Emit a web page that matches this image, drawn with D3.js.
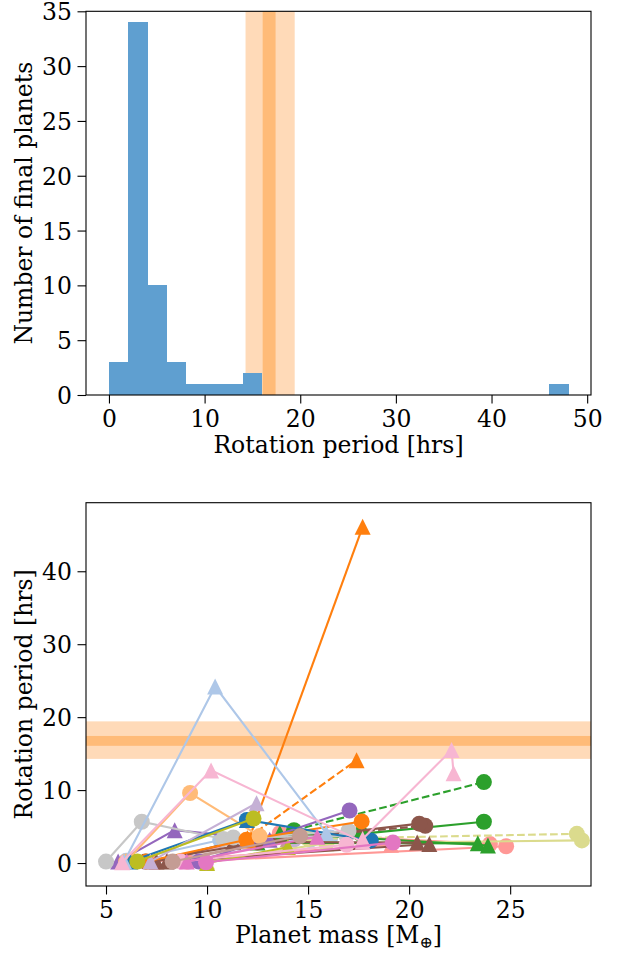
<!DOCTYPE html>
<html><head><meta charset="utf-8">
<script src="https://cdn.jsdelivr.net/npm/d3@7"></script>
<style>
body{margin:0;background:#fff}
text{font-family:"DejaVu Serif",serif;fill:#000}
</style>
</head><body>
<svg id="c" width="620" height="954"></svg>
<script>
// ---------- DATA ----------
const binEdges = [0,2,4,6,8,10,12,14,16,18,20,22,24,26,28,30,32,34,36,38,40,42,44,46,48];
const binCounts = [3,34,10,3,1,1,1,2,0,0,0,0,0,0,0,0,0,0,0,0,0,0,0,1];
const bandOuter = [14.28, 19.42];
const bandInner = [16.07, 17.42];
const histXTicks = [0,10,20,30,40,50];
const histYTicks = [0,5,10,15,20,25,30,35];
const massTicks = [5,10,15,20,25];
const periodTicks = [0,10,20,30,40];

const seriesColor = [
 "#c49c94","#c5b0d5","#aec7e8","#ff9896","#ff9896","#ff9896","#dbdb8d","#dbdb8d","#dbdb8d",
 "#2ca02c","#2ca02c","#2ca02c","#2ca02c",
 "#8c564b","#8c564b","#8c564b","#8c564b",
 "#9467bd","#9467bd","#c7c7c7","#c7c7c7",
 "#ff7f0e","#ff7f0e","#ff7f0e","#ffbb78","#1f77b4","#1f77b4","#c5b0d5",
 "#bcbd22","#bcbd22","#aec7e8","#f7b6d2","#f7b6d2","#f7b6d2","#e377c2","#e377c2","#c49c94"
];
const seriesMarker = [
 "^","o","o","^","o","o","o","^","o",
 "^","^","o","o",
 "^","^","o","o",
 "o","^","o","o",
 "^","o","^","o","o","^","^",
 "o","^","^","^","^","o","^","o","o"
];
const seriesDashed = [
 false,false,false,false,false,false,false,false,true,
 false,false,false,true,
 false,false,true,false,
 false,false,false,false,
 false,false,true,false,false,false,false,
 false,false,false,false,false,false,false,false,false
];
const seriesMass = [
 [8.05,14.0],[9.1,14.3],[6.0,10.65,15.1,16.1],[7.3,19.1],[7.3,13.6,24.0],[9.0,24.8],[15.9,28.55],[10.0,15.9],[15.0,28.3],
 [12.5,23.4],[13.6,23.9],[17.6,23.7],[14.3,23.7],
 [7.5,11.3,20.4],[8.0,21.0],[12.5,20.8],[6.95,12.5,20.5],
 [9.6,17.05],[5.6,8.4,13.1],[5.0,6.77,10.8,17.0],[11.3,16.9],
 [12.05,17.7],[7.0,11.95,17.65],[12.0,17.4],[6.0,9.16,12.6],[11.97,18.1],[6.2,11.97],[7.2,12.45],
 [6.55,12.3],[10.0,14.0],[5.9,10.4,15.9],[5.8,10.2,17.7],[17.7,22.1,22.2],[8.7,16.9],[9.0,15.45],[9.95,19.2],[8.3,14.6]
];
const seriesPeriod = [
 [0.3,3.3],[0.2,3.2],[0.3,3.15,3.15,3.5],[0.2,2.5],[0.2,4.1,2.6],[0.2,2.3],[2.7,3.1],[0.2,2.7],[3.3,4.0],
 [2.8,2.7],[4.1,2.4],[4.0,5.66],[4.5,11.1],
 [0.2,2.9,2.8],[0.2,2.6],[3.1,5.1],[0.2,2.8,5.4],
 [0.2,7.2],[0.2,4.5,3.2],[0.2,5.66,3.3,4.4],[3.5,3.7],
 [3.1,46.1],[0.2,3.2,5.7],[3.4,14.1],[0.2,9.6,3.7],[5.9,3.1],[0.2,5.9],[0.2,8.2],
 [0.2,6.1],[0.0,2.2],[0.2,24.2,4.1],[0.1,12.7,2.9],[3.3,15.5,12.3],[0.2,2.5],[0.2,3.6],[0.1,2.8],[0.2,3.7]
];

// ---------- LAYOUT ----------
const svg = d3.select("#c");
const FS = 23.5;
const L = 86, R = 591;
const top1 = 11.3, bot1 = 395;
const top2 = 502.7, bot2 = 886;
const TICK = 8.5;

// ---------- TOP: histogram ----------
const x1 = d3.scaleLinear().domain([-2.4, 50.4]).range([L, R]);
const y1 = d3.scaleLinear().domain([0, 35]).range([bot1, top1]);
const g1 = svg.append("g");

g1.append("rect").attr("x", x1(bandOuter[0])).attr("width", x1(bandOuter[1]) - x1(bandOuter[0]))
  .attr("y", top1).attr("height", bot1 - top1).attr("fill", "#ffdab8");
g1.append("rect").attr("x", x1(bandInner[0])).attr("width", x1(bandInner[1]) - x1(bandInner[0]))
  .attr("y", top1).attr("height", bot1 - top1).attr("fill", "#ffbb78");

g1.selectAll("rect.bar").data(binCounts.map((c, i) => ({c, a: binEdges[i], b: binEdges[i + 1]})).filter(d => d.c > 0))
  .enter().append("rect").attr("class", "bar")
  .attr("x", d => x1(d.a)).attr("width", d => x1(d.b) - x1(d.a) + 0.5)
  .attr("y", d => y1(d.c)).attr("height", d => y1(0) - y1(d.c))
  .attr("fill", "#5f9fd0").attr("shape-rendering", "crispEdges");

g1.append("rect").attr("x", L).attr("y", top1).attr("width", R - L).attr("height", bot1 - top1)
  .attr("fill", "none").attr("stroke", "#000").attr("stroke-width", 1.1);

function styleAxis(g) {
  g.select(".domain").remove();
  g.selectAll("line").attr("stroke", "#000").attr("stroke-width", 1.1);
  g.selectAll("text").attr("font-size", FS).attr("font-family", "DejaVu Serif").attr("fill", "#000");
}
const ax1 = g1.append("g").attr("transform", `translate(0,${bot1})`)
  .call(d3.axisBottom(x1).tickValues(histXTicks).tickSize(TICK).tickFormat(d3.format("d")));
styleAxis(ax1);
ax1.selectAll("text").attr("dy", null).attr("y", 427 - bot1);
const ay1 = g1.append("g").attr("transform", `translate(${L},0)`)
  .call(d3.axisLeft(y1).tickValues(histYTicks).tickSize(TICK).tickPadding(5.5).tickFormat(d3.format("d")));
styleAxis(ay1);
ay1.selectAll("text").attr("dy", "0.36em");

svg.append("text").attr("x", (L + R) / 2).attr("y", 453).attr("text-anchor", "middle")
  .attr("font-size", FS).text("Rotation period [hrs]");
svg.append("text").attr("transform", `translate(32,${(top1 + bot1) / 2}) rotate(-90)`)
  .attr("text-anchor", "middle").attr("font-size", FS).text("Number of final planets");

// ---------- BOTTOM: evolution ----------
const x2 = d3.scaleLinear().domain([4.01, 29.0]).range([L, R]);
const y2 = d3.scaleLinear().domain([-3.15, 49.4]).range([bot2, top2]);
const g2 = svg.append("g");
svg.append("clipPath").attr("id", "clip2").append("rect")
  .attr("x", L).attr("y", top2).attr("width", R - L).attr("height", bot2 - top2);

g2.append("rect").attr("x", L).attr("width", R - L)
  .attr("y", y2(bandOuter[1])).attr("height", y2(bandOuter[0]) - y2(bandOuter[1])).attr("fill", "#ffdab8");
g2.append("rect").attr("x", L).attr("width", R - L)
  .attr("y", y2(bandInner[1])).attr("height", y2(bandInner[0]) - y2(bandInner[1])).attr("fill", "#ffbb78");

const plot = g2.append("g").attr("clip-path", "url(#clip2)");
const line = d3.line().x(d => x2(d[0])).y(d => y2(d[1]));
const tri = "M0,-8L-8,8L8,8Z";
seriesMass.forEach((ms, i) => {
  const pts = ms.map((m, j) => [m, seriesPeriod[i][j]]);
  const sg = plot.append("g");
  sg.append("path").attr("d", line(pts)).attr("fill", "none")
    .attr("stroke", seriesColor[i]).attr("stroke-width", 2.1)
    .attr("stroke-dasharray", seriesDashed[i] ? "7.7,3.3" : null);
  pts.forEach(p => {
    if (seriesMarker[i] === "o") {
      sg.append("circle").attr("cx", x2(p[0])).attr("cy", y2(p[1])).attr("r", 8).attr("fill", seriesColor[i]);
    } else {
      sg.append("path").attr("d", tri).attr("transform", `translate(${x2(p[0])},${y2(p[1])})`).attr("fill", seriesColor[i]);
    }
  });
});

g2.append("rect").attr("x", L).attr("y", top2).attr("width", R - L).attr("height", bot2 - top2)
  .attr("fill", "none").attr("stroke", "#000").attr("stroke-width", 1.1);

const ax2 = g2.append("g").attr("transform", `translate(0,${bot2})`)
  .call(d3.axisBottom(x2).tickValues(massTicks).tickSize(TICK).tickFormat(d3.format("d")));
styleAxis(ax2);
ax2.selectAll("text").attr("dy", null).attr("y", 917.5 - bot2);
const ay2 = g2.append("g").attr("transform", `translate(${L},0)`)
  .call(d3.axisLeft(y2).tickValues(periodTicks).tickSize(TICK).tickPadding(5.5).tickFormat(d3.format("d")));
styleAxis(ay2);
ay2.selectAll("text").attr("dy", "0.36em");

const xl = svg.append("text").attr("x", (L + R) / 2).attr("y", 943).attr("text-anchor", "middle").attr("font-size", FS);
xl.append("tspan").text("Planet mass [M");
xl.append("tspan").attr("font-size", 16).attr("dy", 5).text("\u2295");
xl.append("tspan").attr("dy", -5).text("]");
svg.append("text").attr("transform", `translate(32,${(top2 + bot2) / 2}) rotate(-90)`)
  .attr("text-anchor", "middle").attr("font-size", FS).text("Rotation period [hrs]");
</script>
</body></html>
